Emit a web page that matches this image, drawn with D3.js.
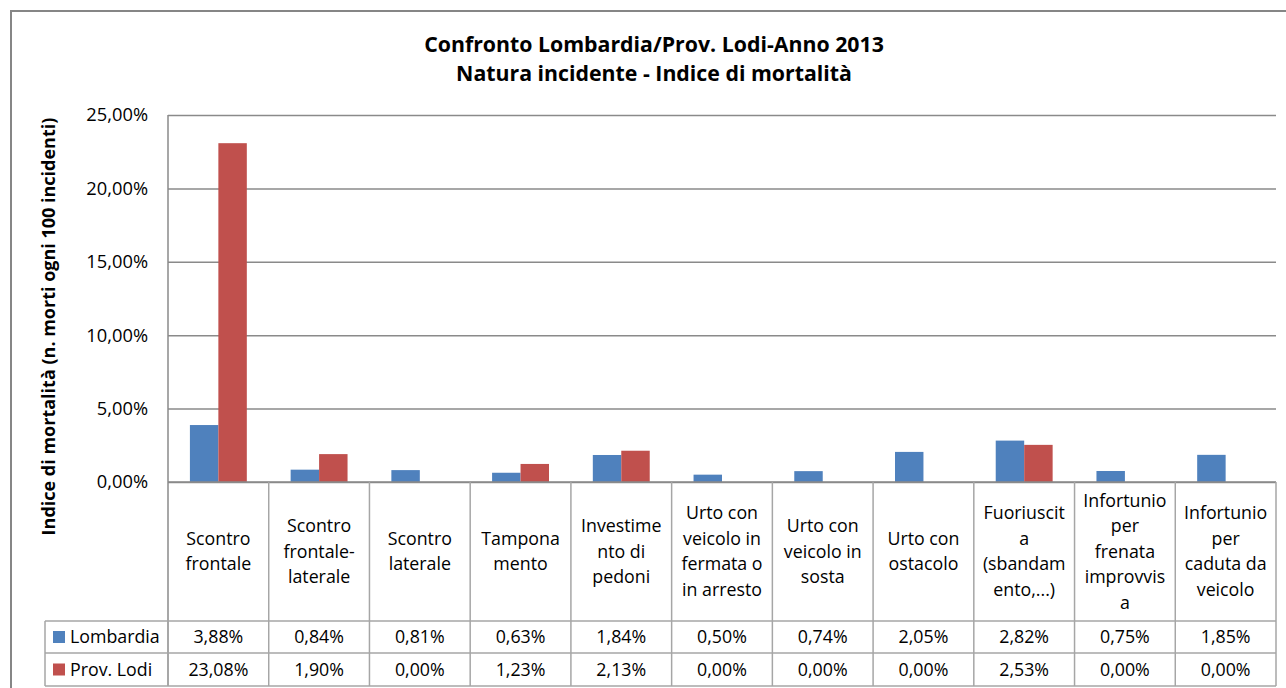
<!DOCTYPE html>
<html>
<head>
<meta charset="utf-8">
<script src="https://cdn.jsdelivr.net/npm/d3@7"></script>
<style>
  body { margin: 0; background: #fff; }
  svg { display: block; font-family: "Open Sans", sans-serif; }
</style>
</head>
<body>
<div id="chart"></div>
<script>
// Data
let categories = [
  ['Scontro', 'frontale'],
  ['Scontro', 'frontale-', 'laterale'],
  ['Scontro', 'laterale'],
  ['Tampona', 'mento'],
  ['Investime', 'nto di', 'pedoni'],
  ['Urto con', 'veicolo in', 'fermata o', 'in arresto'],
  ['Urto con', 'veicolo in', 'sosta'],
  ['Urto con', 'ostacolo'],
  ['Fuoriuscit', 'a', '(sbandam', 'ento,...)'],
  ['Infortunio', 'per', 'frenata', 'improvvis', 'a'],
  ['Infortunio', 'per', 'caduta da', 'veicolo']
]
let seriesNames = ['Lombardia', 'Prov. Lodi']
let lombardia = [3.88, 0.84, 0.81, 0.63, 1.84, 0.50, 0.74, 2.05, 2.82, 0.75, 1.85]
let lodi = [23.08, 1.90, 0.00, 1.23, 2.13, 0.00, 0.00, 0.00, 2.53, 0.00, 0.00]
let yTicks = [0, 5, 10, 15, 20, 25]
let colors = ['#4F81BD', '#C0504D']

let W = 1286, H = 688
let plot = {left: 168, right: 1276, top: 115, bottom: 482}
let tableRows = [621, 653, 686]
let legendLeft = 45
let fs = '17.8px'

let fmt = v => v.toFixed(2).replace('.', ',') + '%'

let svg = d3.select('#chart')
  .append('svg')
  .attr('width', W)
  .attr('height', H)

// outer chart border
svg.append('rect')
  .attr('x', 11).attr('y', 11)
  .attr('width', 1300).attr('height', 720)
  .attr('fill', 'none')
  .attr('stroke', '#868686')
  .attr('stroke-width', 2)

// Title
let title = svg.append('text')
  .attr('text-anchor', 'middle')
  .style('font-weight', 'bold')
  .style('font-size', '21.3px')
  .attr('fill', '#000')
title.append('tspan').attr('x', 654).attr('y', 52).text('Confronto Lombardia/Prov. Lodi-Anno 2013')
title.append('tspan').attr('x', 654).attr('y', 81).text('Natura incidente - Indice di mortalità')

let x = d3.scaleBand()
  .domain(d3.range(categories.length))
  .range([plot.left, plot.right])
  .paddingInner(0)

let xs = d3.scaleBand()
  .domain(seriesNames)
  .range([0, x.bandwidth()])
  .paddingInner(0)
  .paddingOuter(0.77)

let y = d3.scaleLinear()
  .domain([0, 25])
  .range([plot.bottom, plot.top])

// y axis with gridlines
let yAxis = svg.append('g')
  .attr('transform', `translate(${plot.left}, 0)`)
  .call(d3.axisLeft(y)
    .tickValues(yTicks)
    .tickSize(-(plot.right - plot.left))
    .tickPadding(20)
    .tickFormat(fmt))
yAxis.select('.domain').remove()
yAxis.selectAll('.tick line').attr('stroke', '#8a8a8a').attr('stroke-width', 1.5)
yAxis.selectAll('.tick text')
  .attr('fill', '#000')
  .style('font-size', '18.3px')
  .style('font-family', '"Open Sans", sans-serif')

// left axis line
svg.append('line')
  .attr('x1', plot.left).attr('x2', plot.left)
  .attr('y1', y(25)).attr('y2', tableRows[2])
  .attr('stroke', '#8a8a8a').attr('stroke-width', 1.5)

// y axis title
svg.append('text')
  .attr('transform', `translate(50, ${(118 + 535) / 2}) rotate(-90)`)
  .attr('text-anchor', 'middle')
  .attr('dominant-baseline', 'middle')
  .style('font-weight', 'bold')
  .style('font-size', '18px')
  .text('Indice di mortalità (n. morti ogni 100 incidenti)')

// Bars
let series = [lombardia, lodi]
let bg = svg.append('g')
series.forEach((vals, si) => {
  bg.selectAll(null)
    .data(vals)
    .enter()
    .append('rect')
    .attr('x', (d, i) => x(i) + xs(seriesNames[si]))
    .attr('y', d => y(d))
    .attr('width', xs.bandwidth())
    .attr('height', d => y(0) - y(d))
    .attr('fill', colors[si])
})

// Data table
let tg = svg.append('g')
let lineColor = '#a6a6a6'

// horizontal lines
tg.append('line')
  .attr('x1', plot.left).attr('x2', plot.right)
  .attr('y1', y(0)).attr('y2', y(0))
  .attr('stroke', '#8a8a8a').attr('stroke-width', 1.5)
tableRows.forEach(r => {
  tg.append('line')
    .attr('x1', legendLeft).attr('x2', plot.right)
    .attr('y1', r).attr('y2', r)
    .attr('stroke', lineColor).attr('stroke-width', 1.5)
})
// vertical lines
d3.range(categories.length).forEach(i => {
  tg.append('line')
    .attr('x1', x(i) + x.bandwidth()).attr('x2', x(i) + x.bandwidth())
    .attr('y1', y(0)).attr('y2', tableRows[2])
    .attr('stroke', lineColor).attr('stroke-width', 1.5)
})
tg.append('line')
  .attr('x1', legendLeft).attr('x2', legendLeft)
  .attr('y1', tableRows[0]).attr('y2', tableRows[2])
  .attr('stroke', lineColor).attr('stroke-width', 1.5)

// category labels
let lineH = 25.5
categories.forEach((lines, i) => {
  let cy = (y(0) + tableRows[0]) / 2
  let t = tg.append('text')
    .attr('text-anchor', 'middle')
    .style('font-size', fs)
    .attr('fill', '#000')
  lines.forEach((l, j) => {
    t.append('tspan')
      .attr('x', x(i) + x.bandwidth() / 2)
      .attr('y', cy + (j - (lines.length - 1) / 2) * lineH)
      .attr('dy', '0.35em')
      .text(l)
  })
})

// value rows + legend keys
series.forEach((vals, si) => {
  let cy = (tableRows[si] + tableRows[si + 1]) / 2
  tg.append('rect')
    .attr('x', 53).attr('y', cy - 6)
    .attr('width', 12).attr('height', 12)
    .attr('fill', colors[si])
  tg.append('text')
    .attr('x', 70).attr('y', cy)
    .attr('dy', '0.35em')
    .style('font-size', fs)
    .text(seriesNames[si])
  tg.selectAll(null)
    .data(vals)
    .enter()
    .append('text')
    .attr('x', (d, i) => x(i) + x.bandwidth() / 2)
    .attr('y', cy)
    .attr('dy', '0.35em')
    .attr('text-anchor', 'middle')
    .style('font-size', fs)
    .text(d => fmt(d))
})
</script>
</body>
</html>
